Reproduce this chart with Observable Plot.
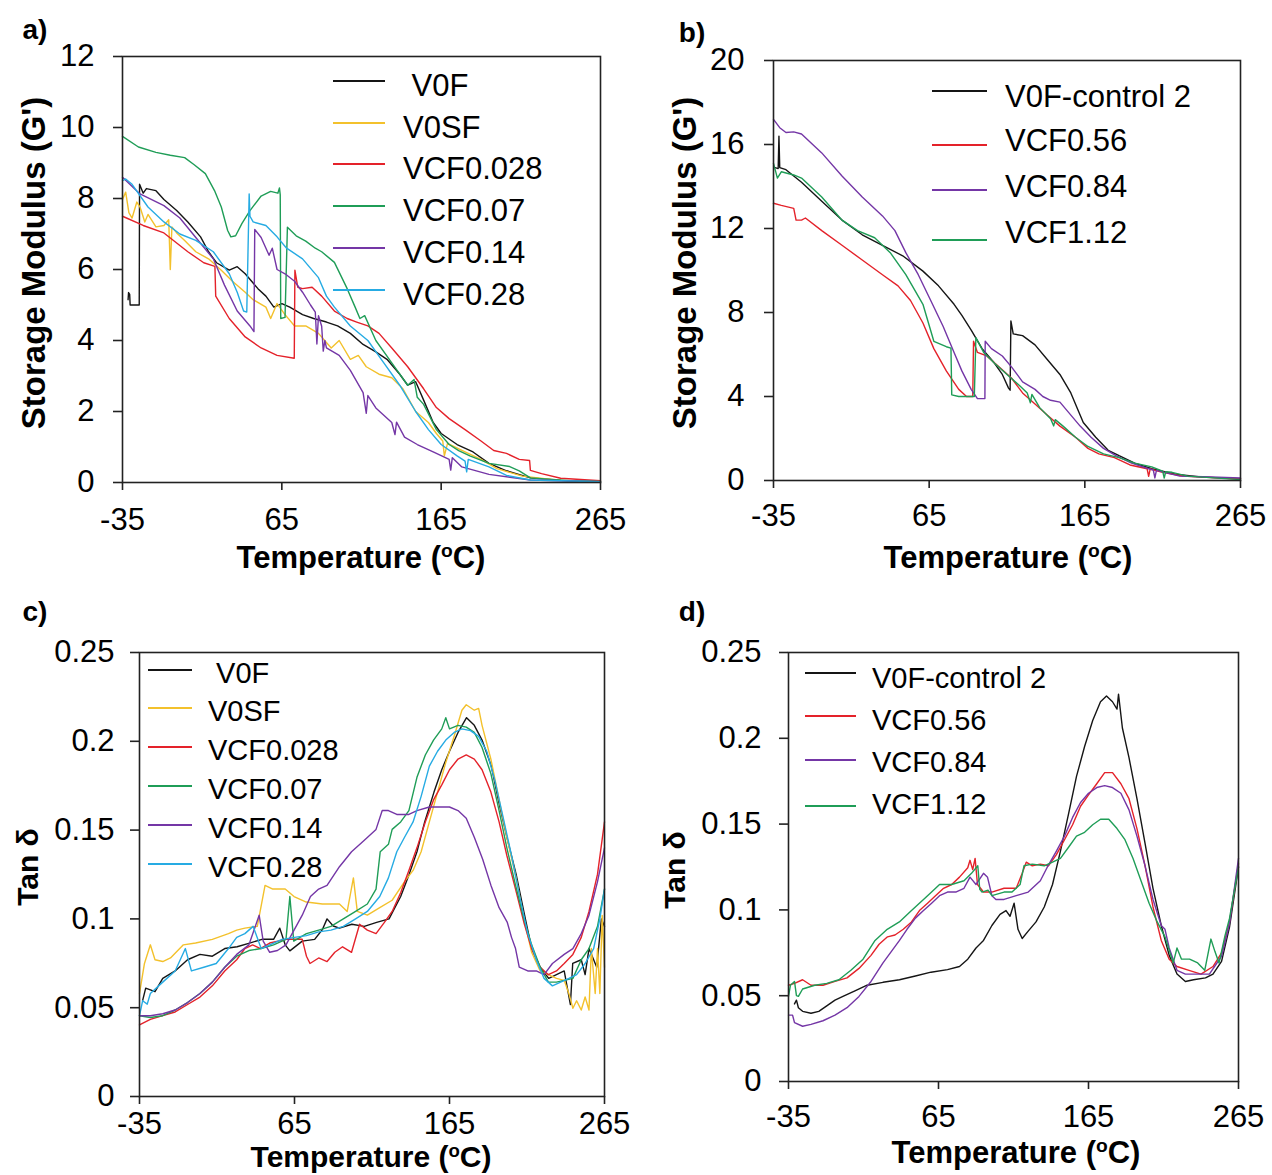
<!DOCTYPE html>
<html><head><meta charset="utf-8">
<script src="https://cdn.jsdelivr.net/npm/d3@7"></script>
<script src="https://cdn.jsdelivr.net/npm/@observablehq/plot@0.6"></script>
<style>
body{margin:0;background:#fff;}
#fig{position:relative;width:1272px;height:1175px;font-family:"Liberation Sans",Arial,Helvetica,sans-serif;color:#000;overflow:hidden;background:#fff}
.lab{position:absolute;font-weight:bold;white-space:nowrap;line-height:1}
.leg{position:absolute;white-space:nowrap;line-height:1}
.sup{font-size:0.62em;position:relative;top:-0.55em}
</style></head><body><div id="fig"></div><script>
// ---------- shared axis values ----------
const tempTicks = [-35, 65, 165, 265];
const gTicksA = [0, 2, 4, 6, 8, 10, 12];
const gTicksB = [0, 4, 8, 12, 16, 20];
const tanTicks = [0, 0.05, 0.1, 0.15, 0.2, 0.25];

// ---------- panel a : storage modulus [T (°C), G'] ----------
const aV0F = [[-31.5,5.15],[-31.2,5.35],[-30.5,5.3],[-30.2,5.0],[-24.5,5.0],[-24.3,8.4],[-22,8.15],[-20,8.28],[-14,8.22],[-9,7.97],[-1,7.66],[6,7.34],[14,6.92],[19,6.5],[24,6.19],[32,5.98],[37,6.08],[42,5.88],[50,5.46],[55,5.25],[60,4.94],[65,5.04],[70,4.94],[78,4.73],[85,4.62],[93,4.52],[100,4.41],[108,4.2],[116,3.89],[124,3.68],[131,3.47],[139,3.05],[144,2.74],[149,2.84],[154,2.32],[160,1.69],[165,1.38],[175,1.07],[185,0.86],[195,0.54],[206,0.33],[221,0.13],[240,0.06],[265,0.03]];
const aV0SF = [[-35,7.97],[-33,8.18],[-31,7.6],[-29,7.45],[-26,7.9],[-24,7.76],[-21,7.34],[-19,7.55],[-14,7.2],[-9,7.24],[-6,7.4],[-5,6.0],[-4,7.2],[-1,7.03],[4,6.82],[11,6.5],[19,6.3],[27,5.98],[34,5.67],[42,5.36],[47,5.15],[55,4.94],[58,4.62],[62,5.04],[67,4.73],[73,4.41],[80,4.41],[88,4.2],[96,3.79],[101,4.0],[108,3.47],[113,3.58],[118,3.26],[126,3.05],[134,2.95],[141,2.64],[149,2.0],[157,1.69],[162,1.38],[166,1.17],[167,0.75],[169,1.1],[180,0.86],[190,0.65],[200,0.39],[216,0.18],[240,0.06],[265,0.03]];
const aVCF0028 = [[-35,7.5],[-22,7.24],[-9,7.03],[6,6.5],[16,6.19],[23,6.09],[23.5,5.25],[32,4.62],[42,4.1],[52,3.79],[62,3.58],[72.8,3.5],[73.2,5.98],[75,5.5],[78,5.46],[84,5.5],[90,5.25],[98,4.83],[106,4.62],[112,4.52],[119,4.41],[126,4.2],[134,3.79],[144,3.26],[154,2.64],[162,2.11],[170,1.8],[180,1.49],[190,1.17],[198,0.9],[206,0.82],[214,0.65],[220.5,0.62],[221,0.34],[228,0.25],[240,0.12],[265,0.05]];
const aVCF007 = [[-35,9.75],[-25,9.45],[-14,9.3],[-5,9.22],[4,9.15],[10,8.95],[17,8.7],[23,8.2],[27,7.76],[31,7.1],[33,6.92],[36,6.95],[40,7.3],[45,7.66],[52,8.07],[58,8.2],[62.5,8.15],[63.5,8.3],[64,8.1],[64.3,4.62],[67,4.65],[68.5,7.19],[74,6.95],[80,6.8],[86,6.6],[90,6.5],[98,6.2],[106,5.46],[111,4.94],[114,4.62],[117,4.7],[124,4.0],[134,3.37],[144,2.74],[148,2.9],[150,2.4],[154,2.2],[162,1.49],[170,1.07],[176,0.9],[183,0.75],[195,0.54],[208,0.45],[214,0.33],[221,0.13],[246,0.05],[265,0.03]];
const aVCF014 = [[-35,8.6],[-24,8.13],[-9,7.8],[1,7.45],[11,6.9],[22,6.3],[29,5.56],[37,4.83],[45,4.41],[47.5,4.25],[48,7.13],[52,6.9],[57,6.4],[59,6.6],[62,6.0],[67,5.88],[73,5.67],[78,5.36],[83,5.0],[86,4.8],[87,3.9],[88,4.7],[90,4.4],[91,3.7],[92,4.0],[93,3.79],[101,3.58],[108,3.16],[116,2.53],[118,1.95],[119,2.45],[124,2.1],[134,1.69],[136,1.35],[137,1.7],[142,1.28],[150,1.07],[160,0.86],[170,0.65],[171,0.35],[172,0.7],[178,0.44],[195,0.23],[221,0.07],[265,0.02]];
const aVCF028 = [[-35,8.5],[-33,8.55],[-29,8.4],[-19,7.76],[-9,7.34],[1,7.0],[11,6.82],[22,6.5],[32,5.88],[37,5.36],[41,4.83],[43,4.8],[44.5,8.13],[45,7.5],[47,7.34],[55,7.24],[62,6.92],[68,6.6],[78,6.3],[88,5.77],[93,5.25],[98,4.94],[108,4.41],[119,4.0],[129,3.37],[139,2.74],[149,2.0],[157,1.49],[165,1.07],[175,0.75],[180,0.6],[181,0.3],[182,0.65],[195,0.44],[206,0.2],[221,0.07],[265,0.02]];

// ---------- panel b : storage modulus ----------
const bV0F = [[-34,14.9],[-32,14.85],[-31.5,16.4],[-31,14.9],[-27,14.8],[-17,14.2],[-4,13.3],[9,12.4],[22,11.7],[35,11.2],[48,10.7],[61,9.97],[71,9.27],[81,8.39],[86,7.86],[92,7.16],[99,6.28],[107,5.58],[112,5.05],[116,4.4],[117,4.3],[117.5,7.6],[119,6.98],[125,6.9],[133,6.46],[141,5.75],[149,5.05],[156,4.17],[161,3.29],[164,2.76],[172,2.06],[180,1.44],[187,1.18],[197,0.83],[208,0.56],[223,0.3],[241,0.16],[265,0.09]];
const bVCF056 = [[-35,13.2],[-30,13.1],[-22,12.96],[-20.5,12.4],[-17,12.4],[-14.5,12.5],[-4,11.9],[9,11.2],[22,10.5],[35,9.8],[45,9.27],[53,8.57],[61,7.5],[68,6.28],[76,5.22],[84,4.34],[89,4.0],[93,4.0],[93.5,6.63],[96,6.1],[102,5.93],[110,5.4],[118,4.87],[125,4.17],[133,3.64],[141,3.11],[149,2.59],[159,2.06],[167,1.53],[174,1.27],[184,1.09],[194,0.74],[205,0.56],[206,0.2],[207,0.55],[215,0.39],[228,0.21],[265,0.07]];
const bVCF084 = [[-35,17.2],[-31,16.8],[-27,16.57],[-22,16.6],[-17,16.5],[-4,15.6],[9,14.5],[22,13.5],[35,12.6],[43,11.9],[50,10.85],[58,9.8],[66,8.57],[74,7.33],[81,6.1],[86,5.22],[92,4.34],[96,3.9],[100.8,3.9],[101,6.63],[105,6.28],[112,5.93],[118,5.4],[125,4.7],[133,4.34],[138,4.0],[143,3.82],[149,3.73],[154,3.29],[162,2.59],[169,2.06],[177,1.53],[185,1.18],[195,0.83],[206,0.56],[209,0.5],[210,0.12],[211,0.48],[216,0.39],[226,0.21],[241,0.18],[265,0.12]];
const bVCF112 = [[-35,15.1],[-32.5,14.4],[-30,14.7],[-22,14.55],[-17,14.4],[-4,13.5],[9,12.4],[19,11.9],[30,11.56],[40,10.85],[50,9.8],[61,8.39],[68,6.63],[76,6.37],[79,6.3],[79.5,4.08],[84,4.0],[94,4.0],[95,6.8],[100,6.1],[107,5.58],[115,5.05],[123,4.52],[128,4.17],[130,3.7],[131,4.1],[136,3.47],[143,2.94],[145,2.6],[146,2.9],[151,2.59],[159,2.06],[167,1.62],[177,1.27],[187,1.09],[197,0.83],[208,0.65],[215,0.45],[216,0.12],[217,0.42],[221,0.39],[231,0.21],[265,0.04]];

// ---------- panel c : tan delta ----------
const cV0F = [[-33,0.054],[-31,0.061],[-25,0.059],[-20,0.0665],[-12,0.0707],[-4,0.077],[4,0.08],[12,0.079],[20,0.0833],[28,0.0843],[36,0.0864],[44,0.0885],[51.5,0.0885],[55.5,0.0948],[59,0.0854],[62,0.082],[70,0.0875],[78,0.0885],[83,0.094],[86,0.1],[90,0.096],[94,0.0948],[102,0.097],[110,0.0958],[118,0.098],[126,0.1],[133.5,0.1126],[139,0.1252],[144,0.1378],[149,0.1546],[155,0.1714],[160,0.184],[165,0.1944],[170.5,0.205],[176,0.2133],[181,0.209],[186,0.2007],[192,0.186],[197,0.165],[202,0.146],[208,0.125],[213,0.104],[218,0.0833],[223.5,0.0728],[229,0.0665],[234,0.0686],[239,0.0707],[243,0.0518],[244.5,0.075],[250,0.077],[252.5,0.0686],[255,0.0833],[260,0.0728],[263,0.1],[265,0.0958]];
const cV0SF = [[-35,0.058],[-31.8,0.0749],[-28,0.0854],[-25,0.077],[-20,0.076],[-15,0.078],[-6.7,0.0854],[1.2,0.0864],[12,0.0885],[22.4,0.0917],[27.7,0.0937],[33,0.0948],[41,0.0958],[46,0.1189],[51,0.1168],[59,0.1168],[64.7,0.1126],[72.6,0.1095],[83,0.1084],[94,0.1084],[99,0.1042],[103,0.1231],[105.5,0.1042],[112,0.1021],[120,0.1063],[128,0.1105],[136,0.121],[141.5,0.1273],[146.7,0.1378],[152,0.1546],[157.3,0.1714],[162.6,0.1881],[168,0.2028],[173,0.2175],[175.8,0.2206],[181,0.2175],[183.8,0.2185],[186,0.209],[191.7,0.19],[197,0.167],[202,0.146],[208,0.123],[213,0.1],[218,0.0812],[223.5,0.0707],[228.8,0.0686],[234,0.0665],[239,0.0654],[242,0.058],[244.6,0.0497],[247,0.0539],[250,0.0487],[252.5,0.056],[255,0.0487],[256.5,0.0833],[259,0.058],[260.5,0.0833],[262,0.058],[263.5,0.102],[265,0.0728]];
const cVCF0028 = [[-35,0.0403],[-28,0.0434],[-20,0.0455],[-12,0.0476],[-4,0.0518],[4,0.056],[12,0.0623],[20,0.0707],[27.7,0.077],[33,0.0833],[38,0.0854],[43,0.0833],[49,0.0864],[59.5,0.0885],[70,0.0885],[72.7,0.079],[75,0.0749],[80.6,0.078],[86,0.076],[91,0.0812],[96,0.0843],[101.8,0.0812],[107,0.097],[112,0.0937],[117.6,0.0917],[123,0.098],[128,0.1042],[133.5,0.1147],[138.8,0.1273],[144,0.14],[149.4,0.1546],[154.7,0.167],[160,0.1755],[165,0.184],[170.5,0.19],[175.8,0.1923],[181,0.19],[186,0.184],[191.7,0.1714],[197,0.1546],[202,0.1357],[207.6,0.1168],[213,0.098],[218,0.0833],[223.5,0.0728],[228.8,0.0686],[234,0.0707],[239,0.0749],[244.6,0.08],[250,0.0896],[255,0.1042],[260.5,0.1252],[265,0.1546]];
const cVCF007 = [[-35,0.0455],[-28,0.0445],[-20,0.0455],[-12,0.0487],[-4,0.0529],[4,0.058],[12,0.0644],[20,0.0728],[27.7,0.079],[35.6,0.0822],[43.5,0.0833],[51.5,0.0854],[59.5,0.0885],[62,0.1126],[64.5,0.0875],[72.7,0.0917],[80.6,0.0937],[88.5,0.0958],[96.5,0.1],[104.4,0.1042],[112,0.1084],[117.6,0.1168],[120.3,0.1378],[125.6,0.142],[128,0.1504],[133.5,0.1546],[138.8,0.161],[144,0.1797],[149.4,0.1923],[154.7,0.2007],[160,0.207],[162.6,0.2133],[165,0.207],[170.5,0.209],[175.8,0.208],[181,0.205],[186,0.1965],[191.7,0.1818],[197,0.161],[202,0.14],[207.6,0.119],[213,0.1],[218,0.0854],[223.5,0.0728],[228.8,0.0644],[234,0.0644],[239,0.0654],[244.6,0.0665],[250,0.077],[255,0.0833],[260.5,0.0958],[265,0.1168]];
const cVCF014 = [[-35,0.0455],[-28,0.0455],[-20,0.0466],[-12,0.0487],[-4,0.0529],[4,0.058],[12,0.0644],[20,0.0728],[27.7,0.08],[35.6,0.0854],[42.2,0.1021],[44.8,0.0875],[49,0.0812],[54,0.0822],[59.5,0.0854],[70,0.1021],[75.3,0.1126],[80.6,0.1168],[86,0.1189],[94,0.1294],[101.8,0.1378],[109.7,0.144],[117.6,0.1504],[121.6,0.161],[125.6,0.161],[131,0.1588],[138.8,0.1588],[144,0.161],[152,0.163],[160,0.163],[165,0.163],[170.5,0.161],[175.8,0.1567],[181,0.146],[186.4,0.1336],[191.7,0.119],[197,0.1063],[202.3,0.098],[205,0.0896],[207.6,0.0833],[210,0.0728],[215.5,0.0707],[221,0.0707],[226,0.0686],[231.4,0.0749],[239,0.08],[244.6,0.0833],[250,0.0917],[255,0.1021],[260.5,0.121],[265,0.14]];
const cVCF028 = [[-35,0.0455],[-33,0.0539],[-30,0.052],[-28,0.058],[-20,0.0644],[-12,0.0707],[-5.4,0.0833],[-1.5,0.0707],[6.5,0.0728],[14.5,0.0749],[22.4,0.0833],[27.7,0.0896],[33,0.0917],[38.3,0.0958],[43.5,0.0833],[49,0.0854],[57,0.0885],[65,0.0896],[72.7,0.0906],[80.6,0.0927],[88.5,0.0937],[96.5,0.0958],[104.4,0.1],[112,0.1042],[120,0.1126],[125.6,0.1231],[131,0.1378],[136,0.146],[141.5,0.1546],[146.7,0.169],[152,0.186],[157.3,0.1944],[162.6,0.2007],[168,0.205],[173,0.207],[178.5,0.206],[183.8,0.2028],[189,0.1944],[194.4,0.1776],[199.7,0.1567],[205,0.1357],[210.3,0.1126],[215.5,0.0917],[221,0.077],[226,0.0665],[231.4,0.0623],[236.7,0.0644],[242,0.0665],[247,0.0686],[252.5,0.0749],[258,0.0833],[262,0.1],[265,0.1168]];

// ---------- panel d : tan delta ----------
const dV0F = [[-31,0.0452],[-29.7,0.0474],[-28.4,0.043],[-25.6,0.0409],[-20,0.0398],[-14.8,0.0409],[-9.5,0.0441],[-4,0.0474],[1.3,0.0496],[9.3,0.0528],[17.4,0.0561],[28,0.0578],[39,0.0593],[49.6,0.0615],[60,0.0637],[71,0.0652],[79,0.067],[84.5,0.0713],[90,0.0778],[95,0.0822],[100.6,0.0909],[106,0.0974],[110,0.0996],[112.7,0.0963],[115.4,0.1039],[118,0.0887],[120.8,0.0833],[124.8,0.0876],[130,0.093],[135.5,0.1017],[141,0.1148],[146.3,0.1343],[151.7,0.156],[157,0.1778],[162.4,0.1952],[167.8,0.2104],[173,0.2213],[177,0.2246],[181,0.2213],[184,0.217],[185,0.2257],[187.6,0.206],[192,0.1887],[197.3,0.1648],[202.7,0.1387],[208,0.1126],[213.5,0.0909],[218.8,0.0735],[224,0.0626],[229.6,0.0583],[235,0.0593],[243,0.0604],[248,0.0626],[253.7,0.07],[259,0.09],[265,0.125]];
const dVCF056 = [[-35,0.0561],[-31,0.0572],[-25.6,0.0593],[-20,0.0561],[-12,0.0561],[-4,0.0583],[4,0.0604],[12,0.0659],[20,0.0735],[25.4,0.08],[31,0.0843],[36,0.0854],[41.5,0.0887],[47,0.093],[52.3,0.0996],[57.7,0.1039],[63,0.1083],[68.4,0.1126],[73.8,0.1148],[79,0.1191],[84.5,0.1246],[86,0.1289],[87.8,0.1235],[89.4,0.13],[91,0.1148],[95,0.1104],[100.6,0.1104],[108.7,0.1126],[116.8,0.1126],[120.8,0.1213],[123.5,0.1278],[127.5,0.1257],[132.9,0.1267],[138.3,0.1257],[143.6,0.1322],[149,0.1409],[154.4,0.1496],[159.7,0.1604],[165,0.167],[170.5,0.1735],[175.8,0.18],[181,0.18],[186.6,0.1735],[192,0.1648],[197.3,0.1474],[202.7,0.1257],[208,0.1017],[213.5,0.0822],[218.8,0.0713],[224,0.067],[232,0.0648],[240,0.0626],[248,0.067],[253.7,0.075],[259,0.093],[265,0.127]];
const dVCF084 = [[-35,0.0387],[-32.3,0.0387],[-31,0.0343],[-25.6,0.0322],[-20,0.0333],[-12,0.0354],[-4,0.0387],[4,0.043],[12,0.0496],[20,0.0583],[28,0.0691],[33.5,0.0757],[39,0.0822],[44,0.0887],[49.6,0.0952],[55,0.0996],[60.4,0.1039],[65.7,0.1083],[71,0.1104],[76.5,0.1104],[82,0.1126],[86,0.1191],[90,0.1148],[95,0.1213],[97.7,0.119],[100.6,0.1083],[103.3,0.1061],[108.7,0.1061],[116.8,0.1083],[124.8,0.1104],[132.9,0.117],[138,0.1257],[143.6,0.1343],[149,0.143],[154.4,0.1539],[159.7,0.1626],[165,0.168],[170.5,0.1713],[175.8,0.1724],[181,0.1713],[186.6,0.168],[192,0.1583],[197.3,0.143],[202.7,0.1257],[208,0.1061],[213.5,0.0909],[216,0.0887],[218.8,0.0778],[224,0.0648],[229.6,0.0626],[237.6,0.0626],[245.6,0.0626],[253.7,0.073],[259,0.092],[265,0.13]];
const dVCF112 = [[-35,0.0496],[-33.7,0.0561],[-31,0.0583],[-29.7,0.05],[-28.4,0.0496],[-25.6,0.0539],[-17.5,0.0561],[-9.5,0.0572],[-1.4,0.0593],[6.6,0.0648],[14.7,0.0713],[22.7,0.0822],[30.8,0.0887],[38.9,0.093],[47,0.0996],[55,0.1061],[60.4,0.1104],[65.7,0.1148],[73.8,0.1148],[82,0.117],[87,0.1213],[91.2,0.1257],[92.5,0.112],[94,0.1104],[98,0.1115],[100.6,0.1083],[108.7,0.1104],[114,0.1104],[119.4,0.1148],[122,0.1257],[127.5,0.1267],[135.5,0.1257],[141,0.1278],[146.3,0.13],[151.7,0.1365],[157,0.143],[162.4,0.1452],[167.8,0.1496],[173,0.1528],[178.5,0.1528],[184,0.1474],[189.3,0.1409],[194.7,0.13],[200,0.117],[205.4,0.1039],[210.8,0.093],[216,0.0843],[221.5,0.0691],[224,0.0778],[227,0.0713],[232.4,0.0713],[237.8,0.0691],[242.5,0.0648],[246.6,0.083],[249.3,0.0757],[252,0.069],[256,0.085],[259,0.095],[265,0.125]];

// ---------- series definitions ----------
const COLORS = {black:"#151515", gold:"#f3c12c", red:"#e4222a", green:"#1f9d57", purple:"#7436a6", cyan:"#26abe3"};
const seriesA = [
  {name:"\u00a0V0F", pts:aV0F, color:COLORS.black},
  {name:"V0SF", pts:aV0SF, color:COLORS.gold},
  {name:"VCF0.028", pts:aVCF0028, color:COLORS.red},
  {name:"VCF0.07", pts:aVCF007, color:COLORS.green},
  {name:"VCF0.14", pts:aVCF014, color:COLORS.purple},
  {name:"VCF0.28", pts:aVCF028, color:COLORS.cyan}
];
const seriesB = [
  {name:"V0F-control 2", pts:bV0F, color:COLORS.black},
  {name:"VCF0.56", pts:bVCF056, color:COLORS.red},
  {name:"VCF0.84", pts:bVCF084, color:COLORS.purple},
  {name:"VCF1.12", pts:bVCF112, color:COLORS.green}
];
const seriesC = [
  {name:"\u00a0V0F", pts:cV0F, color:COLORS.black},
  {name:"V0SF", pts:cV0SF, color:COLORS.gold},
  {name:"VCF0.028", pts:cVCF0028, color:COLORS.red},
  {name:"VCF0.07", pts:cVCF007, color:COLORS.green},
  {name:"VCF0.14", pts:cVCF014, color:COLORS.purple},
  {name:"VCF0.28", pts:cVCF028, color:COLORS.cyan}
];
const seriesD = [
  {name:"V0F-control 2", pts:dV0F, color:COLORS.black},
  {name:"VCF0.56", pts:dVCF056, color:COLORS.red},
  {name:"VCF0.84", pts:dVCF084, color:COLORS.purple},
  {name:"VCF1.12", pts:dVCF112, color:COLORS.green}
];

const FONT = '"Liberation Sans", Arial, Helvetica, sans-serif';
const fig = document.getElementById("fig");
const fmtT = d => d < 0 ? "-" + (-d) : String(d);
const fmtTan = d => d === 0 ? "0" : String(+d.toFixed(2));

function addPlot(p) {
  const svg = Plot.plot({
    width: p.w, height: p.h,
    marginLeft: p.ml, marginRight: p.mr, marginTop: p.mt, marginBottom: p.mb,
    style: {fontFamily: FONT, fontSize: "31px", color: "#000", background: "transparent", overflow: "visible"},
    x: {domain: [-35, 265]},
    y: {domain: p.yDomain},
    marks: [
      ...p.series.map(s => Plot.line(s.pts, {x: d => d[0], y: d => d[1], stroke: s.color, strokeWidth: 1.4, strokeLinejoin: "round"})),
      Plot.frame({stroke: "#222", strokeWidth: 1.6}),
      Plot.axisX({ticks: tempTicks, tickFormat: fmtT, tickSize: 8, tickPadding: p.xpad, fontSize: p.fs, fontFamily: FONT, label: null, stroke: "#222", strokeWidth: 1.6}),
      Plot.axisY({ticks: p.yTicks, tickFormat: p.yFmt, tickSize: 9, tickPadding: p.ypad, fontSize: p.fs, fontFamily: FONT, label: null, stroke: "#222", strokeWidth: 1.6})
    ]
  });
  svg.style.position = "absolute";
  svg.style.left = p.left + "px";
  svg.style.top = p.top + "px";
  fig.appendChild(svg);
}

function addText(html, cx, cy, fs, rotate) {
  const d = document.createElement("div");
  d.className = "lab";
  d.innerHTML = html;
  Object.assign(d.style, {left: cx + "px", top: cy + "px", fontSize: fs + "px",
    transform: "translate(-50%,-50%)" + (rotate ? " rotate(-90deg)" : "")});
  fig.appendChild(d);
}

function addLegend(series, cfg) {
  series.forEach((s, i) => {
    const ln = document.createElement("div");
    Object.assign(ln.style, {position: "absolute", left: cfg.x1 + "px", width: (cfg.x2 - cfg.x1) + "px",
      top: (cfg.lineY[i] - 0.75) + "px", height: "1.5px", background: s.color});
    fig.appendChild(ln);
    const t = document.createElement("div");
    t.className = "leg";
    t.textContent = s.name;
    Object.assign(t.style, {left: cfg.tx + "px", top: cfg.textY[i] + "px", fontSize: cfg.fs + "px", transform: "translateY(-50%)"});
    fig.appendChild(t);
  });
}

// panel a
addPlot({left:0, top:0, w:640, h:590, ml:122, mr:40, mt:56, mb:108, yDomain:[0,12], yTicks:gTicksA, yFmt:d=>String(d), xpad:17, ypad:19, fs:31, series:seriesA});
// panel b
addPlot({left:640, top:0, w:632, h:590, ml:133, mr:32, mt:60, mb:110, yDomain:[0,20], yTicks:gTicksB, yFmt:d=>String(d), xpad:15, ypad:20, fs:31, series:seriesB});
// panel c
addPlot({left:0, top:590, w:640, h:585, ml:139, mr:36, mt:62, mb:79, yDomain:[0,0.25], yTicks:tanTicks, yFmt:fmtTan, xpad:7, ypad:16, fs:31, series:seriesC});
// panel d
addPlot({left:640, top:590, w:632, h:585, ml:148, mr:34, mt:62, mb:94, yDomain:[0,0.25], yTicks:tanTicks, yFmt:fmtTan, xpad:15, ypad:18, fs:31, series:seriesD});

// panel letters
addText("a)", 35, 30, 28, false);
addText("b)", 692, 33, 28, false);
addText("c)", 35, 612, 28, false);
addText("d)", 692, 612, 28, false);

// axis titles
const tempTitle = 'Temperature (<span class="sup">o</span>C)';
addText(tempTitle, 361, 557, 31, false);
addText(tempTitle, 1008, 557, 31, false);
addText(tempTitle, 371, 1157, 30, false);
addText(tempTitle, 1016, 1152, 31, false);
addText("Storage Modulus (G')", 33, 263, 33, true);
addText("Storage Modulus (G')", 684, 263, 33, true);
addText("Tan δ", 28, 867, 30, true);
addText("Tan δ", 675, 870, 30, true);

// legends
addLegend(seriesA, {x1:333, x2:385, tx:403, fs:31, textY:[85,127,168,210,252,294], lineY:[81,123,164,206,248,290]});
addLegend(seriesB, {x1:932, x2:987, tx:1005, fs:31, textY:[96,140,186,232], lineY:[91,145,190,240]});
addLegend(seriesC, {x1:148, x2:192, tx:208, fs:29, textY:[673,711,750,789,828,867], lineY:[670,708,747,786,825,864]});
addLegend(seriesD, {x1:805, x2:856, tx:872, fs:29, textY:[678,720,762,804], lineY:[673,716,760,806]});
</script></body></html>
